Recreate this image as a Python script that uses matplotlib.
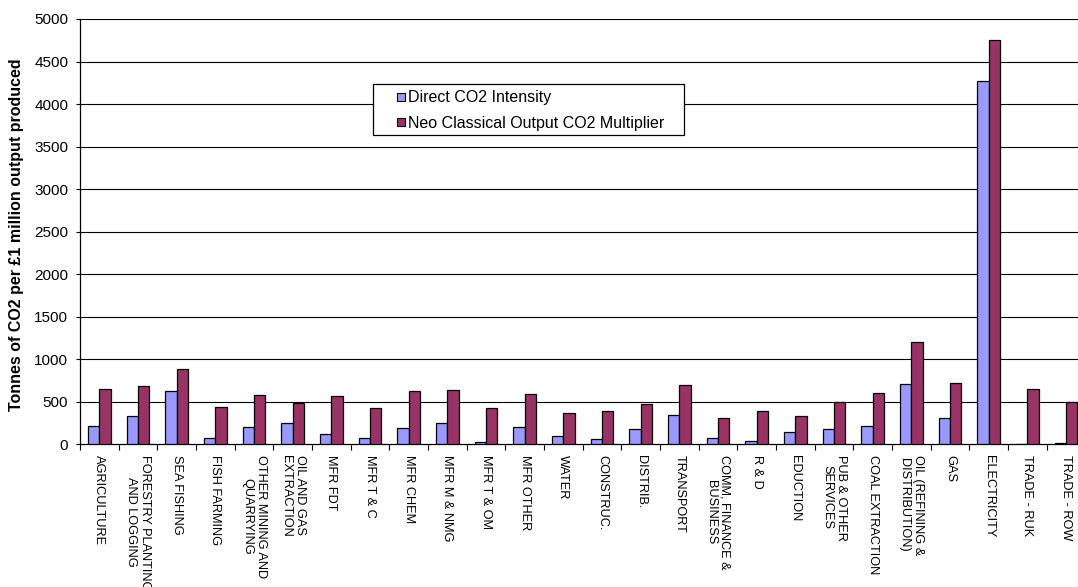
import matplotlib
matplotlib.use("Agg")
import matplotlib.pyplot as plt
import numpy as np
from matplotlib.lines import Line2D
from matplotlib.patches import Rectangle

categories = [
    "AGRICULTURE", "FORESTRY PLANTING\nAND LOGGING", "SEA FISHING", "FISH FARMING",
    "OTHER MINING AND\nQUARRYING", "OIL AND GAS\nEXTRACTION", "MFR FDT", "MFR T & C",
    "MFR CHEM", "MFR M & NMG", "MFR T & OM", "MFR OTHER", "WATER", "CONSTRUC.",
    "DISTRIB.", "TRANSPORT", "COMM, FINANCE &\nBUSINESS", "R & D", "EDUCTION",
    "PUB & OTHER\nSERVICES", "COAL EXTRACTION", "OIL (REFINING &\nDISTRIBUTION)",
    "GAS", "ELECTRICITY", "TRADE - RUK", "TRADE - ROW",
]
direct = [219, 329, 627, 78, 200, 247, 125, 71, 188, 250, 24, 207, 98, 66,
          184, 345, 71, 35, 149, 180, 215, 713, 313, 4270, 4, 12]
multiplier = [650, 682, 886, 439, 584, 490, 565, 431, 623, 635, 427, 588, 368, 392,
              470, 698, 309, 388, 329, 494, 607, 1204, 721, 4750, 651, 501]
series_names = ["Direct CO2 Intensity", "Neo Classical Output CO2 Multiplier"]
yticks = [0, 500, 1000, 1500, 2000, 2500, 3000, 3500, 4000, 4500, 5000]

c_blue = "#9999FF"
c_maroon = "#993366"

plt.rcParams["font.family"] = ["Liberation Sans", "DejaVu Sans"]

fig = plt.figure(figsize=(10.78, 5.87), dpi=100)
ax = fig.add_axes([80 / 1078, 1 - 444.3 / 587, 1005.4 / 1078, (444.3 - 19) / 587])

x = np.arange(len(categories))
w = 0.293
ax.bar(x - w / 2, direct, width=w, color=c_blue, edgecolor="black", linewidth=0.9, zorder=3)
ax.bar(x + w / 2, multiplier, width=w, color=c_maroon, edgecolor="black", linewidth=0.9, zorder=3)

ax.set_xlim(-0.5, len(categories) - 0.5)
ax.set_ylim(0, 5000)
ax.set_yticks(yticks)
ax.set_yticklabels([str(v) for v in yticks], fontsize=11)
for v in yticks[1:]:
    ax.axhline(v, color="black", linewidth=0.8, zorder=1)

# category ticks between groups
ax.set_xticks(np.arange(len(categories) + 1) - 0.5)
ax.set_xticklabels([])
ax.tick_params(axis="x", direction="out", length=4, width=0.8, color="black")
ax.tick_params(axis="y", direction="out", length=3, width=0.8, color="black", pad=5.5)
for i, lab in enumerate(categories):
    ax.text(i, -0.024, lab, transform=ax.get_xaxis_transform(), rotation=-90,
            ha="center", va="top", multialignment="center", fontsize=9.2,
            rotation_mode="default")

for s in ["top", "right"]:
    ax.spines[s].set_visible(False)
ax.spines["left"].set_linewidth(0.9)
ax.spines["bottom"].set_linewidth(0.9)

fig.text(17 / 1078, 1 - 235 / 587, "Tonnes of CO2 per \u00a31 million output produced",
         rotation=90, ha="center", va="center", fontsize=11.5, fontweight="bold")

# legend frame
lx0, ly0 = 373, 84
lw_, lh_ = 311, 51
rect = Rectangle((lx0 / 1078, 1 - (ly0 + lh_) / 587), lw_ / 1078, lh_ / 587,
                 transform=fig.transFigure, facecolor="white", edgecolor="black",
                 linewidth=0.9, zorder=5)
fig.patches.append(rect)
handles = [Line2D([], [], linestyle="none", marker="s", markersize=5.5,
                  markerfacecolor=c, markeredgecolor="black", markeredgewidth=0.8)
           for c in (c_blue, c_maroon)]
leg = fig.legend(handles, series_names, loc="upper left",
                 bbox_to_anchor=(393 / 1078, 1 - 87 / 587), frameon=False,
                 fontsize=11.5, handlelength=0.6, handletextpad=0.12,
                 labelspacing=0.65, borderpad=0.2, borderaxespad=0)
leg.set_zorder(6)

fig.savefig("out.png", dpi=100)
